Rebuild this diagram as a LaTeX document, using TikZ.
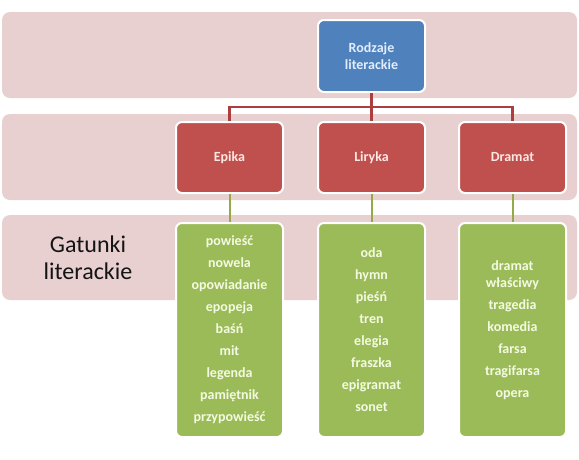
\documentclass[tikz,border=0pt]{standalone}
\usepackage{fontspec}
\setmainfont{Carlito}
\usepackage{tikz}
\definecolor{pasmo}{RGB}{232,208,209}
\definecolor{niebieski}{RGB}{79,129,189}
\definecolor{czerwony}{RGB}{192,80,77}
\definecolor{zielony}{RGB}{155,187,89}
\definecolor{liniaR}{RGB}{172,62,64}
\definecolor{liniaZ}{RGB}{148,170,72}

\begin{document}
\begin{tikzpicture}[x=1pt, y=-1pt]
	\tikzstyle{every node} = [rectangle, rounded corners=6pt, draw=white, line width=2pt, align=center, font={\bfseries\fontsize{14}{17}\selectfont}]
	\tikzstyle{rodzaj} = [fill=czerwony, text={rgb,255:red,252;green,232;blue,228}, minimum width=107pt, minimum height=71pt]
	\tikzstyle{gatunek} = [fill=zielony, text={rgb,255:red,244;green,250;blue,226}, minimum width=107pt, minimum height=214pt, font={\bfseries\fontsize{14}{22}\selectfont}]
	\useasboundingbox (0,0) rectangle (579,459);
	
	% pasma tla
	\fill[pasmo, rounded corners=8pt] (2,12) rectangle (577,98); \fill[pasmo, rounded corners=8pt] (2,114) rectangle (577,200); \fill[pasmo, rounded corners=8pt] (2,215) rectangle (577,300);
	
	\node[fill=niebieski, text={rgb,255:red,226;green,238;blue,252}, minimum width=107pt, minimum height=72pt] (root) at (371.5,56) {Rodzaje\\literackie};
	\node[rodzaj] (epika) at (229.5,157.5) {Epika}; \node[rodzaj] (liryka) at (371.5,157.5) {Liryka}; \node[rodzaj] (dramat) at (512.5,157.5) {Dramat};
	\node[gatunek] (epikaG) at (229.5,330) {powieść\\nowela\\opowiadanie\\epopeja\\baśń\\mit\\legenda\\pamiętnik\\przypowieść};
	\node[gatunek] (lirykaG) at (371.5,330) {oda\\hymn\\pieśń\\tren\\elegia\\fraszka\\epigramat\\sonet};
	\node[gatunek] (dramatG) at (512.5,330) {dramat\\[-5pt]właściwy\\tragedia\\komedia\\farsa\\tragifarsa\\opera};
	\node[draw=none, font={\fontsize{24}{27}\selectfont}, text={rgb,255:red,20;green,20;blue,20}] (gatunki) at (88,258) {Gatunki\\literackie};
	
	\coordinate (split) at (371.5,107);
	\draw[liniaR, line width=2.5pt] (epika.north) |- (split) -| (dramat.north); \draw[liniaR, line width=2.5pt] (root.south) -- (liryka.north);
	\draw[liniaZ, line width=2pt] (epika.south) -- (epikaG.north); \draw[liniaZ, line width=2pt] (liryka.south) -- (lirykaG.north); \draw[liniaZ, line width=2pt] (dramat.south) -- (dramatG.north);
\end{tikzpicture}
\end{document}
